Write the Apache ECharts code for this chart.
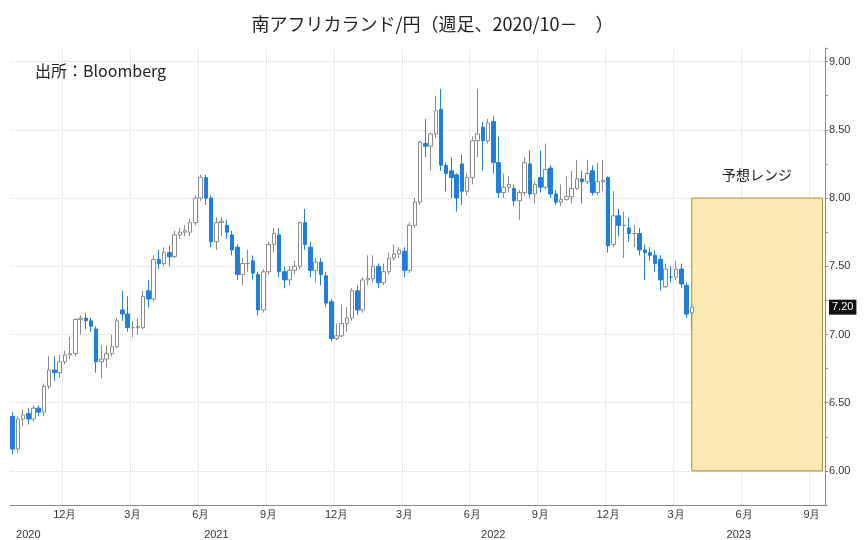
<!DOCTYPE html>
<html lang="ja">
<head>
<meta charset="UTF-8">
<title>南アフリカランド/円</title>
<script src="https://cdn.jsdelivr.net/npm/echarts@6/dist/echarts.min.js"></script>
</head>
<body style="margin:0">
<div id="chart" style="width:865px;height:540px"></div>
<script>
// weekly candles [open, close, low, high], first week 2020-09-25
var startDate = '2020-09-25';
var totalWeeks = 156;
var candles = [
  [6.40,6.16,6.12,6.43],[6.16,6.38,6.13,6.40],[6.38,6.41,6.33,6.45],[6.42,6.38,6.34,6.46],
  [6.38,6.46,6.36,6.48],[6.46,6.43,6.40,6.48],[6.43,6.62,6.40,6.64],[6.62,6.74,6.60,6.84],
  [6.74,6.72,6.66,6.84],[6.72,6.80,6.68,6.85],[6.80,6.85,6.78,6.88],[6.85,6.86,6.82,6.98],
  [6.86,7.11,6.84,7.12],[7.11,7.12,7.00,7.14],[7.12,7.10,7.04,7.16],[7.10,7.06,7.02,7.12],
  [7.04,6.80,6.72,7.06],
  [6.80,6.82,6.68,6.92],[6.82,6.86,6.76,6.92],[6.86,6.91,6.84,7.00],[6.91,7.10,6.90,7.12],
  [7.18,7.15,7.10,7.32],[7.15,7.05,7.02,7.28],[7.05,7.05,6.98,7.10],[7.05,7.06,7.00,7.12],
  [7.05,7.28,7.04,7.32],
  [7.32,7.26,7.20,7.40],[7.26,7.55,7.24,7.58],[7.55,7.52,7.48,7.62],[7.52,7.60,7.50,7.64],
  [7.60,7.57,7.50,7.65],[7.57,7.73,7.56,7.76],[7.73,7.75,7.70,7.78],[7.75,7.76,7.72,7.80],
  [7.75,7.82,7.72,7.85],
  [7.82,8.00,7.80,8.02],[8.00,8.15,7.98,8.17],[8.15,8.00,7.95,8.17],[8.00,7.68,7.64,8.02],
  [7.68,7.82,7.62,7.86],[7.82,7.83,7.72,7.86],[7.80,7.75,7.70,7.84],[7.73,7.62,7.58,7.76],
  [7.64,7.44,7.40,7.66],[7.44,7.52,7.36,7.56],[7.52,7.52,7.46,7.62],[7.54,7.45,7.40,7.58],
  [7.44,7.18,7.14,7.46],[7.18,7.46,7.16,7.48],[7.46,7.66,7.44,7.68],[7.66,7.74,7.60,7.78],
  [7.73,7.46,7.42,7.78],[7.46,7.40,7.34,7.50],[7.40,7.47,7.36,7.50],[7.47,7.50,7.44,7.54],
  [7.50,7.82,7.48,7.83],[7.82,7.66,7.62,7.92],[7.64,7.47,7.42,7.68],[7.47,7.53,7.38,7.56],
  [7.53,7.44,7.36,7.56],[7.43,7.23,7.20,7.46],[7.24,6.97,6.95,7.26],[6.97,6.99,6.96,7.08],
  [6.99,7.08,6.98,7.22],[7.08,7.12,7.02,7.20],[7.12,7.32,7.10,7.34],[7.32,7.18,7.14,7.36],
  [7.18,7.40,7.16,7.42],[7.40,7.41,7.36,7.58],[7.41,7.50,7.38,7.58],[7.50,7.38,7.34,7.52],
  [7.38,7.46,7.36,7.52],[7.46,7.56,7.44,7.60],[7.56,7.59,7.54,7.66],[7.59,7.62,7.56,7.64],
  [7.61,7.47,7.42,7.64],[7.47,7.80,7.45,7.82],[7.80,7.97,7.78,8.00],[7.97,8.41,7.95,8.42],
  [8.40,8.38,8.30,8.58],[8.38,8.47,8.20,8.48],[8.47,8.64,8.44,8.75],[8.65,8.24,8.20,8.80],
  [8.24,8.18,8.05,8.26],[8.20,8.15,8.00,8.30],[8.17,8.00,7.90,8.18],[8.25,8.05,7.95,8.32],
  [8.05,8.15,8.02,8.18],[8.15,8.42,8.10,8.45],[8.42,8.47,8.30,8.80],[8.52,8.42,8.20,8.56],
  [8.42,8.55,8.40,8.58],[8.56,8.26,8.18,8.60],[8.26,8.04,8.00,8.45],[8.04,8.08,8.00,8.18],
  [8.08,8.10,8.04,8.16],[8.07,7.98,7.94,8.10],[7.98,8.04,7.84,8.06],[8.04,8.26,8.02,8.30],
  [8.25,8.03,8.00,8.35],[8.03,8.10,7.96,8.12],[8.15,8.08,8.04,8.35],[8.08,8.21,8.06,8.40],
  [8.22,8.03,8.00,8.24],[8.03,7.97,7.95,8.06],[7.97,7.99,7.94,8.10],[7.99,8.01,7.98,8.16],
  [8.01,8.07,7.96,8.20],[8.07,8.14,8.06,8.28],[8.14,8.12,7.96,8.20],[8.12,8.18,8.10,8.28],
  [8.20,8.04,8.02,8.24],[8.04,8.12,8.02,8.26],[8.12,8.13,8.05,8.28],[8.15,7.65,7.60,8.16],
  [7.66,7.87,7.64,8.05],[7.87,7.80,7.72,7.92],[7.80,7.80,7.56,7.90],[7.78,7.74,7.68,7.86],
  [7.74,7.74,7.64,7.80],[7.74,7.62,7.58,7.78],[7.62,7.60,7.40,7.66],[7.60,7.58,7.54,7.64],
  [7.58,7.52,7.46,7.62],[7.55,7.40,7.32,7.58],[7.35,7.48,7.34,7.52],[7.42,7.42,7.38,7.50],
  [7.42,7.48,7.40,7.54],[7.48,7.37,7.34,7.52],[7.36,7.15,7.12,7.38],[7.16,7.20,7.03,7.22]
];
var lastPrice = 7.20;
var rangeLow = 6.00, rangeHigh = 8.00;
var rangeStart = 130;
var quarterMonths = [12, 3, 6, 9];
var yearLabelDates = {'2020-10-16': '2020', '2021-06-25': '2021', '2022-07-01': '2022', '2023-05-26': '2023'};

var dates = [];
var d0 = new Date(startDate + 'T00:00:00Z');
for (var i = 0; i < totalWeeks; i++) {
  var d = new Date(d0.getTime() + i * 7 * 86400000);
  dates.push(d.toISOString().slice(0, 10));
}
function isQuarterStart(i, v) {
  var m = +v.slice(5, 7), day = +v.slice(8, 10);
  return quarterMonths.indexOf(m) >= 0 && day <= 7;
}

var option = {
  animation: false,
  title: [
    {text: '南アフリカランド/円（週足、2020/10－　）', left: 'center', top: 10,
     textStyle: {fontSize: 18, fontWeight: 'normal', color: '#222', fontFamily: 'Noto Sans CJK JP'}},
    {text: '出所：Bloomberg', left: 30, top: 58,
     textStyle: {fontSize: 16, fontWeight: 'normal', color: '#222', fontFamily: 'Noto Sans CJK JP'}}
  ],
  grid: {left: 10, right: 40, top: 48, bottom: 35},
  xAxis: [{
    type: 'category', data: dates, boundaryGap: true,
    axisLine: {lineStyle: {color: '#888'}},
    axisTick: {interval: isQuarterStart, lineStyle: {color: '#888'}},
    axisLabel: {interval: isQuarterStart, fontSize: 11, color: '#333', margin: 4,
      formatter: function (v) { return (+v.slice(5, 7)) + '月'; }},
    splitLine: {show: true, interval: isQuarterStart, lineStyle: {color: '#d8d8d8', type: 'dotted'}}
  }, {
    type: 'category', data: dates, position: 'bottom', offset: 16, gridIndex: 0,
    axisLine: {show: false}, axisTick: {show: false},
    axisLabel: {interval: function (i, v) { return !!yearLabelDates[v]; }, fontSize: 11, color: '#333',
      formatter: function (v) { return yearLabelDates[v] || ''; }}
  }],
  yAxis: {
    type: 'value', position: 'right', min: 5.75, max: 9.1, interval: 0.25, scale: true,
    axisLine: {show: true, lineStyle: {color: '#888'}},
    axisTick: {show: true, length: 3, lineStyle: {color: '#888'}},
    axisLabel: {fontSize: 11, color: '#333', margin: 4,
      formatter: function (v) { return Math.round(v * 100) % 50 === 0 ? v.toFixed(2) : ''; }},
    splitLine: {show: true, lineStyle: {color: ['transparent', '#d8d8d8'], type: 'dotted'}}
  },
  series: [{
    type: 'candlestick',
    data: candles,
    barWidth: 4,
    itemStyle: {color: '#ffffff', color0: '#1e7fdc', borderColor: '#8a8a8a', borderColor0: '#1e7fdc', borderWidth: 1},
    markLine: {
      symbol: 'none', silent: true,
      lineStyle: {color: 'rgba(0,0,0,0)', width: 1},
      label: {show: true, position: 'end', formatter: lastPrice.toFixed(2), backgroundColor: '#111', color: '#fff',
        fontSize: 11, padding: [2, 3], distance: 4},
      data: [{yAxis: lastPrice}]
    },
    markArea: {
      silent: true,
      itemStyle: {color: '#fde9b4', borderColor: '#b08a2a', borderWidth: 1},
      label: {show: true, position: 'top', distance: 16, formatter: '予想レンジ', fontSize: 14, color: '#222',
        fontFamily: 'Noto Sans CJK JP'},
      data: [[{xAxis: dates[rangeStart], yAxis: rangeHigh}, {xAxis: dates[totalWeeks - 1], yAxis: rangeLow}]]
    }
  }]
};
echarts.init(document.getElementById('chart')).setOption(option);
</script>
</body>
</html>
